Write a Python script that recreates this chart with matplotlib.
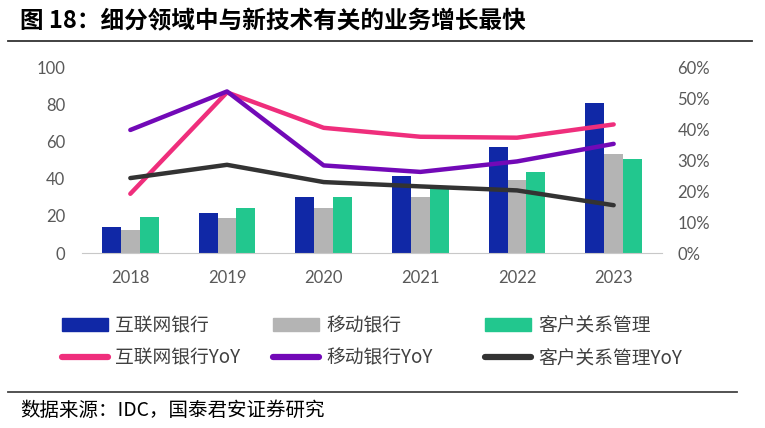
import matplotlib.pyplot as plt
import numpy as np
from matplotlib.lines import Line2D
from matplotlib.patches import Patch

plt.rcParams['font.family'] = ['Noto Sans CJK SC', 'DejaVu Sans']

# data
years = ['2018', '2019', '2020', '2021', '2022', '2023']
internet_bank = [14.2, 21.4, 30.4, 41.6, 57.1, 80.9]
mobile_bank = [12.4, 18.7, 24.1, 30.4, 39.5, 53.4]
crm = [19.3, 24.5, 30.1, 36.4, 43.8, 50.8]
internet_yoy = [0.192, 0.521, 0.406, 0.377, 0.374, 0.417]
mobile_yoy = [0.399, 0.524, 0.284, 0.263, 0.297, 0.354]
crm_yoy = [0.243, 0.286, 0.230, 0.216, 0.203, 0.155]

c_blue, c_gray, c_green = '#1028A6', '#B4B4B4', '#22C78E'
c_pink, c_purple, c_black = '#EF2E7C', '#7209B7', '#333333'
tick_col = '#595959'

fig = plt.figure(figsize=(7.65, 4.28), dpi=100)
ax = fig.add_axes([82/765, 1-253/428, 580/765, 185/428])
ax2 = ax.twinx()

x = np.arange(len(years))
w = 0.195
ax.bar(x - w, internet_bank, w, color=c_blue)
ax.bar(x, mobile_bank, w, color=c_gray)
ax.bar(x + w, crm, w, color=c_green)

ax2.plot(x, internet_yoy, color=c_pink, lw=3.2, solid_capstyle='round')
ax2.plot(x, mobile_yoy, color=c_purple, lw=3.2, solid_capstyle='round')
ax2.plot(x, crm_yoy, color=c_black, lw=3.2, solid_capstyle='round')

ax.set_xlim(-0.5, 5.5)
ax.set_ylim(0, 100)
ax2.set_ylim(0, 0.6)
ax.set_yticks([0, 20, 40, 60, 80, 100])
ax2.set_yticks([0, 0.1, 0.2, 0.3, 0.4, 0.5, 0.6])
ax2.set_yticklabels(['0%', '10%', '20%', '30%', '40%', '50%', '60%'])
ax.set_xticks(x)
ax.set_xticklabels(years)

for a in (ax, ax2):
    for s in a.spines.values():
        s.set_visible(False)
    a.tick_params(length=0, labelcolor=tick_col, labelsize=12)
    for lab in a.get_xticklabels() + a.get_yticklabels():
        lab.set_family(['Lato', 'DejaVu Sans'])
ax.spines['bottom'].set_visible(True)
ax.spines['bottom'].set_color('#C8C8C8')
ax.tick_params(axis='y', pad=12)
ax2.tick_params(axis='y', pad=11)
ax.tick_params(axis='x', pad=12)

# title and rules
fig.text(20/765, 1-21/428, '图 18：细分领域中与新技术有关的业务增长最快', fontsize=17,
         fontweight='bold', va='center', ha='left', color='black')
fig.add_artist(Line2D([8/765, 752/765], [1-41/428, 1-41/428], color='#333333', lw=1.3))
fig.add_artist(Line2D([8/765, 737/765], [1-392/428, 1-392/428], color='#444444', lw=1.3))
fig.text(20/765, 1-410/428, '数据来源：IDC，国泰君安证券研究', fontsize=14,
         va='center', ha='left', color='black')

# legend, one column at a time
cols = [
    (62, [Patch(color=c_blue), Line2D([], [], color=c_pink, lw=4.5, solid_capstyle='round')],
     ['互联网银行', '互联网银行YoY']),
    (273, [Patch(color=c_gray), Line2D([], [], color=c_purple, lw=4.5, solid_capstyle='round')],
     ['移动银行', '移动银行YoY']),
    (485, [Patch(color=c_green), Line2D([], [], color=c_black, lw=4.5, solid_capstyle='round')],
     ['客户关系管理', '客户关系管理YoY']),
]
for xpos, handles, labels in cols:
    leg = fig.legend(handles, labels, loc='upper left',
                     bbox_to_anchor=(xpos/765, 1-315/428), frameon=False,
                     fontsize=13.5, handlelength=2.45, handleheight=0.75,
                     handletextpad=0.4, labelspacing=0.62, borderpad=0,
                     borderaxespad=0, labelcolor='#404040')

fig.savefig('out.png', dpi=100)
